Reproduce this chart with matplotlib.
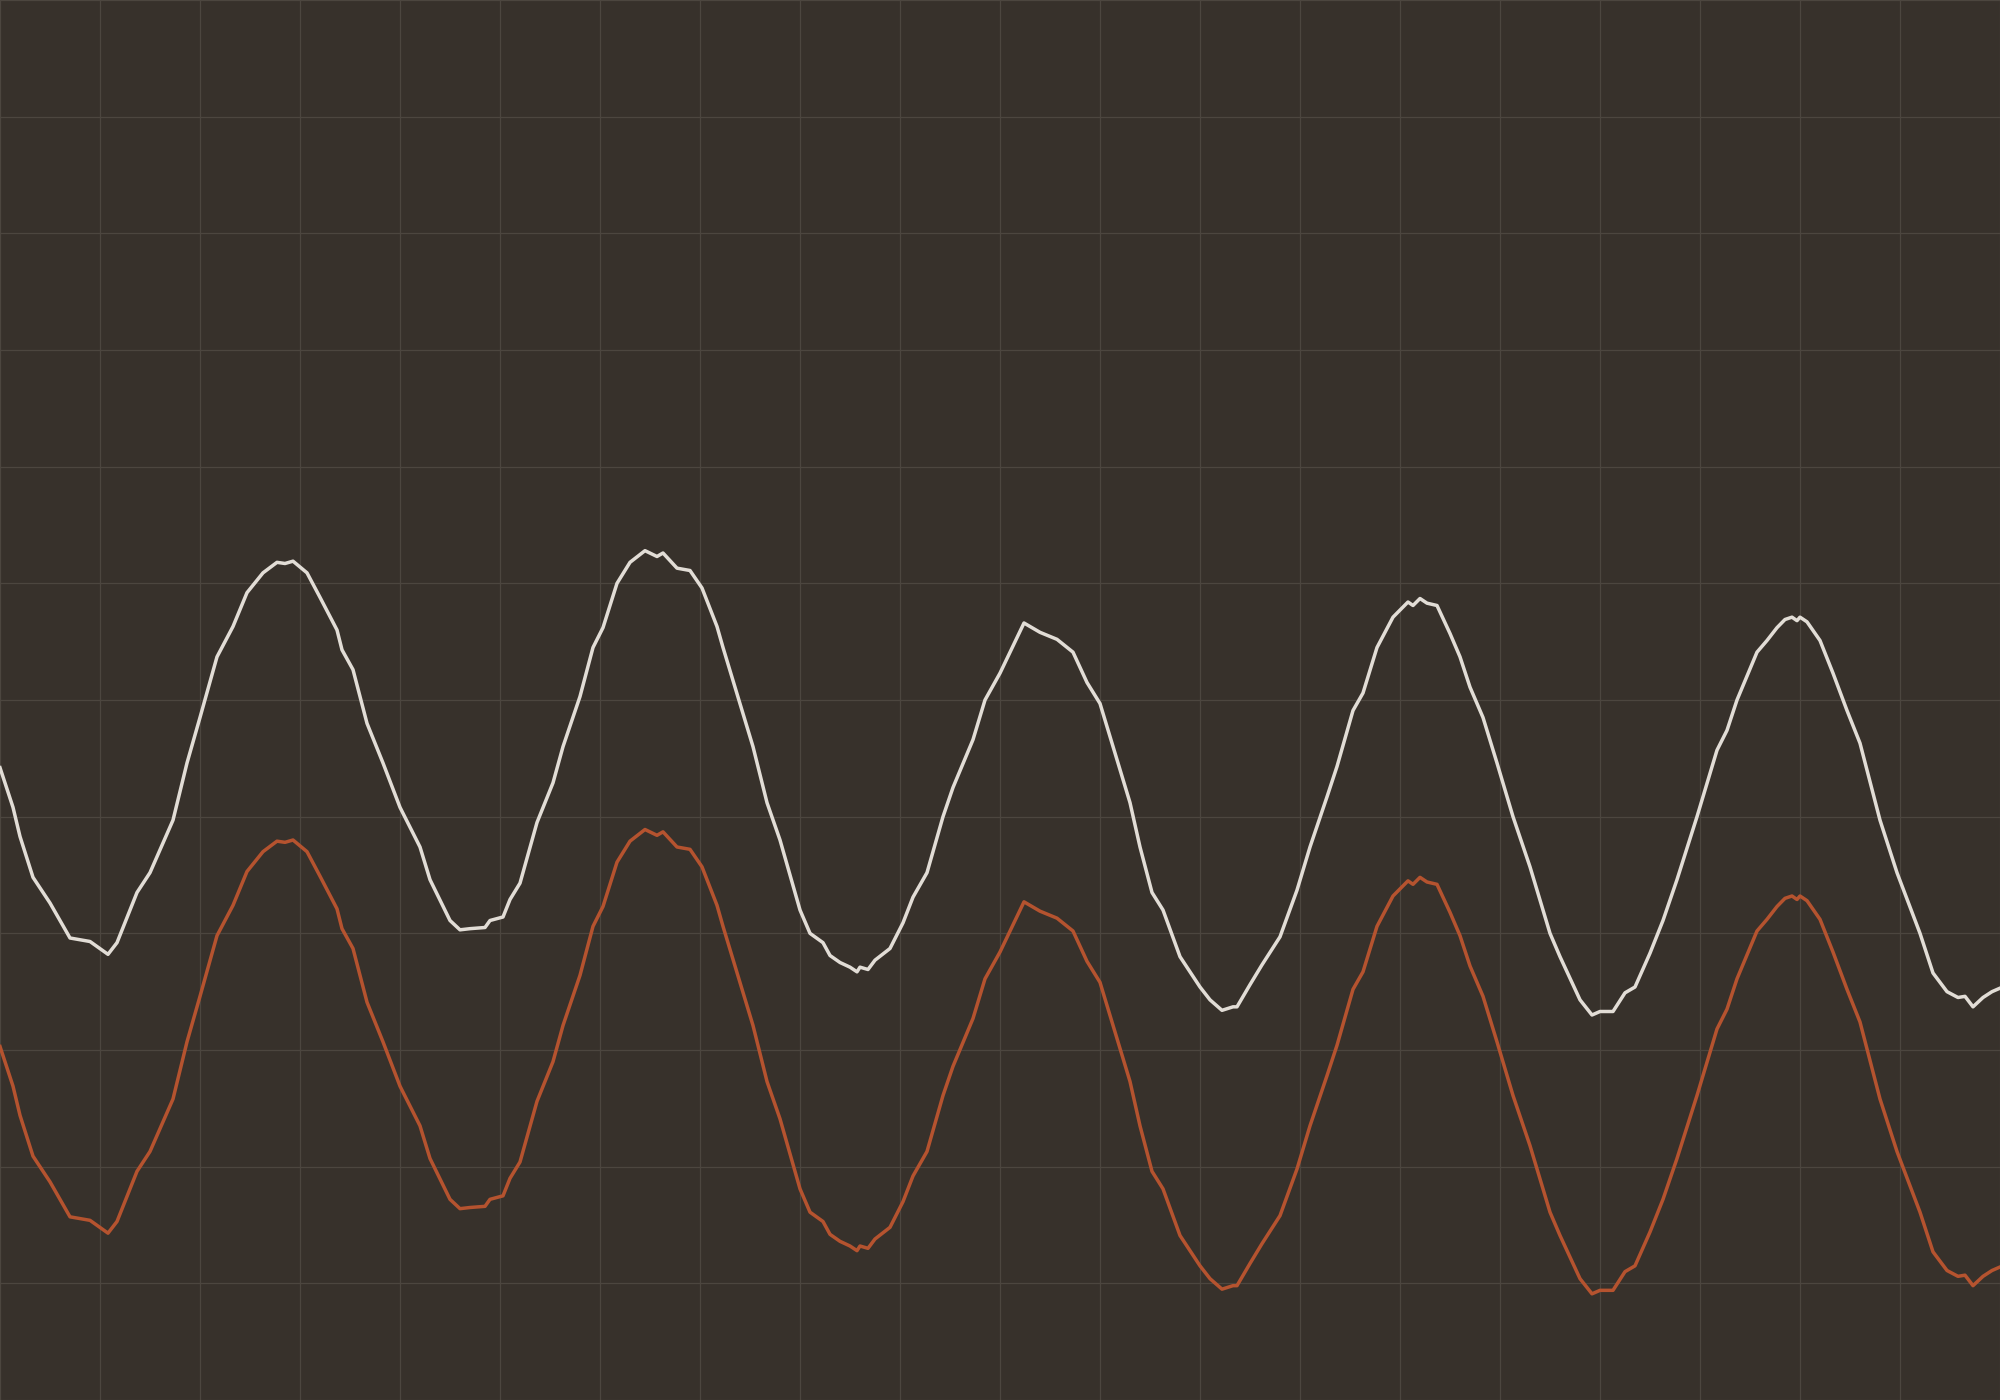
import matplotlib
matplotlib.use("Agg")
import matplotlib.pyplot as plt

# time axis (grid units: 20 columns)
x = [0.00,0.13,0.20,0.33,0.50,0.70,0.90,1.08,1.17,1.37,1.50,1.73,1.87,2.00,2.17,2.33,2.47,2.63,2.77,2.85,2.93,3.07,3.20,3.37,3.42,3.53,3.67,3.83,4.00,
     4.20,4.30,4.50,4.60,4.70,4.85,4.90,5.03,5.10,5.20,5.37,5.53,5.63,5.80,5.93,6.03,6.17,6.30,6.45,6.57,6.63,6.77,6.90,7.02,7.17,7.23,7.40,7.53,7.67,7.80,8.00,
     8.10,8.23,8.30,8.40,8.50,8.57,8.60,8.68,8.75,8.90,9.03,9.13,9.27,9.43,9.53,9.73,9.85,10.00,10.10,10.24,10.40,10.57,10.73,10.87,11.00,11.17,11.30,11.40,11.52,11.63,11.80,12.00,
     12.10,12.22,12.33,12.37,12.50,12.62,12.80,12.97,13.10,13.27,13.37,13.53,13.63,13.77,13.93,14.08,14.13,14.20,14.27,14.37,14.50,14.60,14.70,14.83,14.97,15.13,15.30,15.50,15.60,15.80,15.92,16.00,
     16.13,16.25,16.35,16.50,16.63,16.77,16.97,17.17,17.27,17.37,17.57,17.67,17.77,17.85,17.92,17.97,18.00,18.07,18.20,18.33,18.47,18.60,18.80,18.97,19.20,19.33,19.47,19.58,19.65,19.73,19.83,19.92,20.00]

white_series = [5.42,5.08,4.83,4.48,4.26,3.96,3.93,3.82,3.92,4.35,4.52,4.97,5.46,5.85,6.37,6.63,6.92,7.09,7.18,7.17,7.19,7.09,6.88,6.60,6.43,6.26,5.80,5.46,5.08,
     4.74,4.46,4.11,4.03,4.04,4.05,4.11,4.14,4.29,4.43,4.95,5.29,5.60,6.03,6.45,6.62,7.00,7.18,7.28,7.23,7.26,7.13,7.11,6.96,6.63,6.45,5.97,5.60,5.12,4.80,4.20,
     4.00,3.92,3.81,3.75,3.71,3.67,3.71,3.69,3.77,3.87,4.09,4.31,4.52,5.00,5.25,5.66,6.00,6.23,6.41,6.66,6.58,6.52,6.41,6.15,5.97,5.49,5.12,4.74,4.35,4.20,3.80,3.54,
     3.43,3.34,3.37,3.37,3.56,3.73,3.97,4.37,4.74,5.17,5.43,5.91,6.06,6.45,6.71,6.84,6.81,6.87,6.83,6.81,6.57,6.37,6.11,5.85,5.46,5.00,4.57,4.00,3.80,3.43,3.30,3.33,
     3.33,3.49,3.54,3.83,4.11,4.46,5.00,5.57,5.74,6.00,6.41,6.51,6.62,6.69,6.71,6.68,6.71,6.67,6.51,6.23,5.91,5.63,4.97,4.52,4.00,3.66,3.50,3.45,3.46,3.37,3.45,3.50,3.53]

orange_series = [3.03,2.69,2.44,2.09,1.87,1.57,1.54,1.43,1.53,1.96,2.13,2.58,3.07,3.46,3.98,4.24,4.53,4.70,4.79,4.78,4.80,4.70,4.49,4.21,4.04,3.87,3.41,3.07,2.69,
     2.35,2.07,1.72,1.64,1.65,1.66,1.72,1.75,1.90,2.04,2.56,2.90,3.21,3.64,4.06,4.23,4.61,4.79,4.89,4.84,4.87,4.74,4.72,4.57,4.24,4.06,3.58,3.21,2.73,2.41,1.81,
     1.61,1.53,1.42,1.36,1.32,1.28,1.32,1.30,1.38,1.48,1.70,1.92,2.13,2.61,2.86,3.27,3.61,3.84,4.02,4.27,4.19,4.13,4.02,3.76,3.58,3.10,2.73,2.35,1.96,1.81,1.41,1.15,
     1.04,0.95,0.98,0.98,1.17,1.34,1.58,1.98,2.35,2.78,3.04,3.52,3.67,4.06,4.32,4.45,4.42,4.48,4.44,4.42,4.18,3.98,3.72,3.46,3.07,2.61,2.18,1.61,1.41,1.04,0.91,0.94,
     0.94,1.10,1.15,1.44,1.72,2.07,2.61,3.18,3.35,3.61,4.02,4.12,4.23,4.30,4.32,4.29,4.32,4.28,4.12,3.84,3.52,3.24,2.58,2.13,1.61,1.27,1.11,1.06,1.07,0.98,1.06,1.11,1.14]

x_grid = list(range(0, 21))
y_grid = list(range(0, 13))

BG = "#37312b"
GRID = "#4c463f"
WHITE = "#e2ddd6"
ORANGE = "#b5532f"

fig = plt.figure(figsize=(10, 7), dpi=200, facecolor=BG)
ax = fig.add_axes([0, 0, 1, 1])
ax.set_facecolor(BG)
ax.set_xlim(0, 20)
ax.set_ylim(0, 12)
ax.set_xticks(x_grid)
ax.set_yticks(y_grid)
ax.tick_params(length=0, labelbottom=False, labelleft=False)
ax.grid(True, color=GRID, linewidth=0.45, zorder=0)
for s in ax.spines.values():
    s.set_visible(False)

ax.plot(x, white_series, color=WHITE, linewidth=1.25, solid_joinstyle="round", zorder=3)
ax.plot(x, orange_series, color=ORANGE, linewidth=1.25, solid_joinstyle="round", zorder=3)

fig.savefig("out.png", dpi=200, facecolor=BG)
